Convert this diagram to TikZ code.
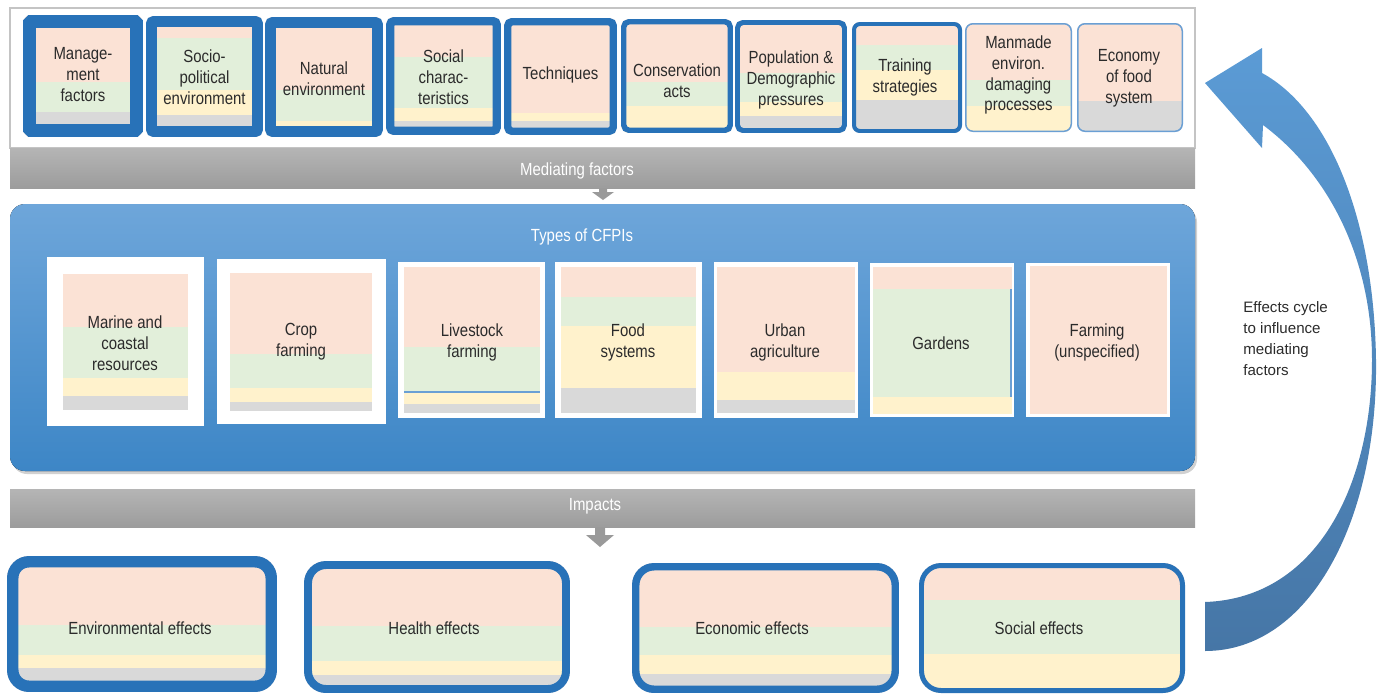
\documentclass[tikz,border=0pt]{standalone}
\usepackage{fontspec}
\setmainfont{Liberation Sans}[FakeStretch=0.85]
\newfontfamily\widesans{Liberation Sans}
\definecolor{peach}{HTML}{FBE2D5}
\definecolor{mint}{HTML}{E2EFDA}
\definecolor{cream}{HTML}{FFF2CC}
\definecolor{ash}{HTML}{D9D9D9}
\definecolor{frameblue}{HTML}{2872B8}
\definecolor{paleblue}{HTML}{6A9FD4}
\definecolor{inktext}{HTML}{2B2B2B}
\definecolor{panelgrey}{HTML}{C4C4C4}
\definecolor{barlight}{HTML}{B5B5B5}
\definecolor{bardark}{HTML}{9C9C9C}
\definecolor{arrowgrey}{HTML}{9A9A9A}
\definecolor{cfpitop}{HTML}{6EA6DA}
\definecolor{cfpibottom}{HTML}{3D86C6}
\definecolor{cyclelight}{HTML}{5B9BD5}
\definecolor{cycledark}{HTML}{4676A6}

% colour bands: left x, right x, list of top/bottom/colour
\newcommand{\bands}[3]{\foreach \ya/\yb/\cl in {#3} \fill[fill=\cl] (#1,-\ya) rectangle (#2,-\yb);}
% framed box: [colour] x1, y1, x2, y2, border (px), outer radius (pt), bands
\newcommand{\ringbox}[8][frameblue]{%
  \begin{scope}
    \clip[rounded corners=#7pt] (#2,-#3) rectangle (#4,-#5);
    \bands{#2}{#4}{#8}
  \end{scope}
  \pgfmathsetmacro\rc{max(0.5,#7-0.2835*#6)}
  \draw[#1, line width=#6*0.567pt, rounded corners=\rc pt]
    ({#2+#6/2},{-#3-#6/2}) rectangle ({#4-#6/2},{-#5+#6/2});}
% white framed box: frame x1, y1, x2, y2, inner x1, inner x2, bands
\newcommand{\cfpibox}[7]{%
  \fill[white] (#1,-#2) rectangle (#3,-#4);
  \bands{#5}{#6}{#7}}

\begin{document}
\begin{tikzpicture}[x=0.02cm, y=0.02cm]
	\tikzstyle{every node}+=[inner sep=0pt]
	\tikzstyle{boxtext}=[align=center, text=inktext, font=\fontsize{10}{11.9}\selectfont]
	\tikzstyle{bartext}=[text=white, font=\fontsize{10}{11.9}\selectfont]
	\tikzstyle{greybar}=[top color=barlight, bottom color=bardark]
	\useasboundingbox (0,0) rectangle (1390,-694);
	% mediating factors
	\draw [panelgrey, fill=white, line width=1pt] (10,-8) rectangle (1195,-148);
	\ringbox{23}{15}{143}{137}{13}{4.5}{15/82/peach, 82/112/mint, 112/137/ash}
	\ringbox{146}{16}{263}{137}{11}{4.5}{16/38/peach, 38/90/mint, 90/115/cream, 115/137/ash}
	\ringbox{265}{17}{383}{137}{11}{4.5}{17/90/peach, 90/121/mint, 121/137/cream}
	\ringbox{386}{17}{501}{135}{8.5}{4.5}{17/57/peach, 57/108/mint, 108/121/cream, 121/135/ash}
	\ringbox{504}{18}{617}{135}{7.5}{4.5}{18/113/peach, 113/121/cream, 121/135/ash}
	\ringbox{621}{19}{733}{133}{5.5}{4.5}{19/82/peach, 82/106/mint, 106/133/cream}
	\ringbox{735}{20}{847}{133}{5}{4.5}{20/73/peach, 73/102/mint, 102/116/cream, 116/133/ash}
	\ringbox{852}{22}{962}{133}{4}{4.5}{22/45/peach, 45/70/mint, 70/100/cream, 100/133/ash}
	\ringbox[paleblue]{965}{23}{1072}{132}{1.5}{4.5}{23/80/peach, 80/106/mint, 106/132/cream}
	\ringbox[paleblue]{1077}{23}{1183}{132}{1.5}{4.5}{23/101/peach, 101/132/ash}
	\node [boxtext] (mgmt) at (83,-74.5) {Manage-\\ment\\factors};
	\node [boxtext] (socio) at (204.5,-77) {Socio-\\political\\environment};
	\node [boxtext] (natural) at (324,-78.5) {Natural\\environment};
	\node [boxtext] (social) at (443.5,-77) {Social\\charac-\\teristics};
	\node [boxtext] (techniques) at (560.5,-75) {Techniques};
	\node [boxtext] (conservation) at (677,-80.5) {Conservation\\acts};
	\node [boxtext] (population) at (791,-80) {Population \&\\Demographic\\pressures};
	\node [boxtext] (training) at (905,-77.5) {Training\\strategies};
	\node [boxtext] (manmade) at (1018.5,-75) {Manmade\\environ.\\damaging\\processes};
	\node [boxtext] (economy) at (1129,-78) {Economy\\of food\\system};
	\fill [greybar] (10,-148) rectangle (1195,-188);
	\node [bartext] (mediating) at (577,-171) {Mediating factors};
	\fill [arrowgrey] (599,-188) -- (607,-188) -- (607,-192) -- (614,-192) -- (603,-200) -- (592,-192) -- (599,-192) -- cycle;
	% types of CFPIs
	\fill [black!18, rounded corners=8.5pt] (12,-207) rectangle (1197,-474);
	\fill [top color=cfpitop, bottom color=cfpibottom, rounded corners=8.5pt] (10,-204) rectangle (1195,-471);
	\node [bartext] (cfpis) at (582,-237) {Types of CFPIs};
	\cfpibox{47}{257}{204}{426}{63}{188}{274/327/peach, 327/378/mint, 378/396/cream, 396/410/ash}
	\cfpibox{217}{259}{386}{424}{230}{372}{273/354/peach, 354/388/mint, 388/402/cream, 402/411/ash}
	\cfpibox{398}{262}{545}{418}{404}{540}{267/347/peach, 347/392/mint, 392/404/cream, 404/413/ash}
	\cfpibox{555}{262}{702}{418}{561}{696}{267/297/peach, 297/326/mint, 326/388/cream, 388/413/ash}
	\cfpibox{714}{262}{858}{418}{717}{855}{267/372/peach, 372/400/cream, 400/413/ash}
	\cfpibox{870}{263}{1014}{417}{873}{1012}{267/289/peach, 289/397/mint, 397/414/cream}
	\cfpibox{1026}{263}{1170}{417}{1030}{1167}{266/414/peach}
	\draw [paleblue, line width=0.6pt] (404,-392) -- (540,-392);
	\draw [paleblue, line width=0.6pt] (1011,-289) -- (1011,-397);
	\node [boxtext] (marine) at (125,-343) {Marine and\\coastal\\resources};
	\node [boxtext] (crop) at (301,-342) {Crop\\farming};
	\node [boxtext] (livestock) at (472,-342) {Livestock\\farming};
	\node [boxtext] (foodsys) at (628,-342) {Food\\systems};
	\node [boxtext] (urban) at (785,-342) {Urban\\agriculture};
	\node [boxtext] (gardens) at (941,-343) {Gardens};
	\node [boxtext] (farming) at (1097,-342) {Farming\\(unspecified)};
	% impacts
	\fill [greybar] (10,-489) rectangle (1195,-527);
	\node [bartext] (impacts) at (595,-506) {Impacts};
	\fill [arrowgrey] (595,-527) -- (605,-527) -- (605,-535) -- (614,-535) -- (600,-547) -- (586,-535) -- (595,-535) -- cycle;
	\ringbox{7}{556}{277}{692}{11.5}{12.5}{556/625/peach, 625/655/mint, 655/668/cream, 668/692/ash}
	\ringbox{304}{561}{570}{693}{8}{12.5}{561/626/peach, 626/661/mint, 661/675/cream, 675/693/ash}
	\ringbox{632}{563}{899}{693}{7.5}{12.5}{563/627/peach, 627/655/mint, 655/674/cream, 674/693/ash}
	\ringbox{919}{563}{1185}{693}{5}{12.5}{563/600/peach, 600/654/mint, 654/693/cream}
	\node [boxtext] (envfx) at (140,-628) {Environmental effects};
	\node [boxtext] (healthfx) at (434,-628) {Health effects};
	\node [boxtext] (econfx) at (752,-628) {Economic effects};
	\node [boxtext] (socialfx) at (1039,-628) {Social effects};
	% effects cycle
	\path [top color=cyclelight, bottom color=cycledark]
		(1205,-651) .. controls (1310,-651) and (1378,-520) .. (1376,-360)
		.. controls (1374,-220) and (1330,-110) .. (1262,-73)
		-- (1262,-48) -- (1205,-83) -- (1262,-148) -- (1263,-125)
		.. controls (1330,-175) and (1372,-260) .. (1372,-360)
		.. controls (1372,-480) and (1320,-598) .. (1205,-602) -- cycle;
	\node [anchor=west, align=left, text=inktext, font=\widesans\fontsize{8.6}{11.9}\selectfont] (cycle) at (1243,-338.5) {Effects cycle\\to influence\\mediating\\factors};
\end{tikzpicture}
\end{document}
